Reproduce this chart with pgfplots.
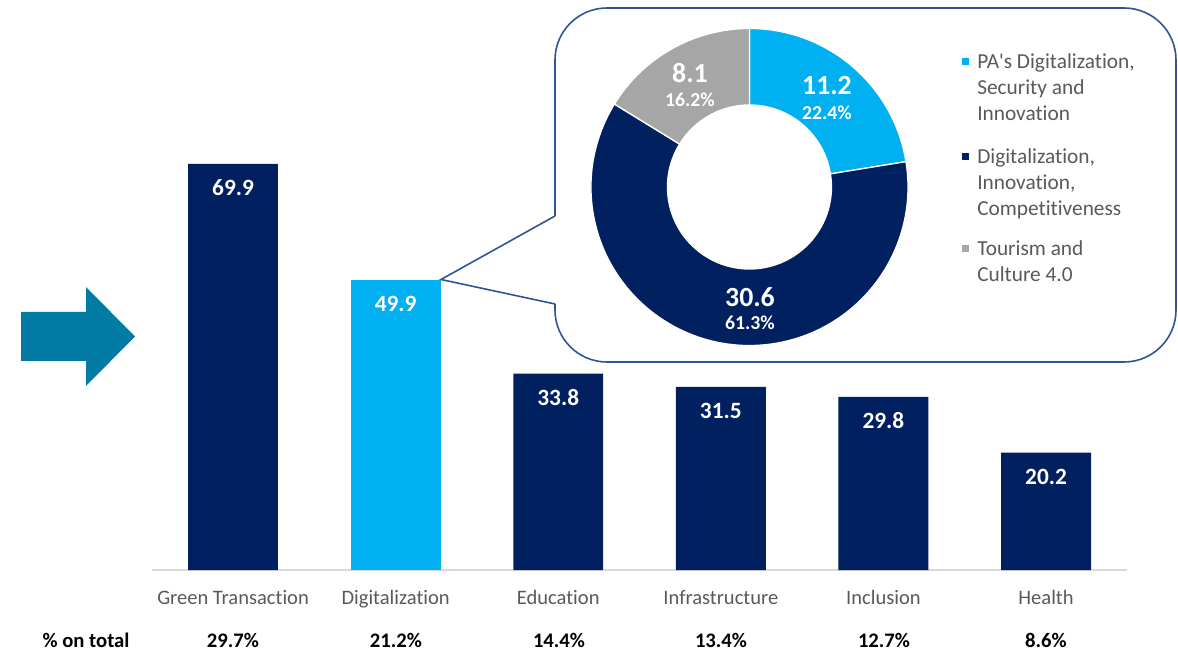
\documentclass[border=0pt]{standalone}
\usepackage{pgfplots}
\pgfplotsset{compat=1.18}
\usepackage{fontspec}
\setmainfont{Carlito}[Ligatures={NoCommon}]
\definecolor{navy}{HTML}{002060}
\definecolor{lblue}{HTML}{00B0F0}
\definecolor{dgray}{HTML}{A6A6A6}
\definecolor{arrowc}{HTML}{027BA5}
\definecolor{tgray}{HTML}{595959}
\definecolor{axgray}{HTML}{D9D9D9}
\definecolor{callc}{HTML}{2F5597}
\begin{document}
\begin{tikzpicture}
\path[use as bounding box] (0,0) rectangle (883.5pt,492.75pt);
% ---------- bar chart ----------
\begin{axis}[
  at={(113.8pt,65.25pt)}, anchor=south west,
  scale only axis, width=731.7pt, height=348.6pt,
  xmin=-0.5, xmax=5.5, ymin=0, ymax=80,
  axis x line*=bottom, axis y line=none,
  x axis line style={draw=axgray, line width=1.5pt},
  xtick={0,1,2,3,4,5},
  xticklabels={Green Transaction,Digitalization,Education,Infrastructure,Inclusion,Health},
  xtick style={draw=none}, major tick length=0pt,
  xticklabel style={font=\fontsize{15.4}{18}\selectfont, text=tgray, anchor=base, yshift=-26pt},
  ytick=\empty,
  /pgf/number format/assume math mode=true,
  clip=false,
]
\addplot[ybar, bar width=0.553, bar shift=0pt, fill=navy, draw=none,
  nodes near coords={\pgfmathprintnumber[fixed,precision=1,fixed zerofill]{\pgfplotspointmeta}},
  every node near coord/.append style={font=\bfseries\fontsize{17.5}{20}\selectfont, text=white, anchor=center, yshift=-18pt}]
  coordinates {(0,69.9) (2,33.8) (3,31.5) (4,29.8) (5,20.2)};
\addplot[ybar, bar width=0.553, bar shift=0pt, fill=lblue, draw=none,
  nodes near coords={\pgfmathprintnumber[fixed,precision=1,fixed zerofill]{\pgfplotspointmeta}},
  every node near coord/.append style={font=\bfseries\fontsize{17.5}{20}\selectfont, text=white, anchor=center, yshift=-18pt}]
  coordinates {(1,49.9)};
\end{axis}
% ---------- callout, arrow, labels (pixel coordinates) ----------
\begin{scope}[x=0.75pt, y=-0.75pt, yshift=492.75pt]
  \fill[arrowc] (21,312) -- (86,312) -- (86,287) -- (135,336.5) -- (86,386) -- (86,361) -- (21,361) -- cycle;
  \draw[callc, line width=1.2pt, rounded corners=39pt] (555,216) -- (555,8) -- (1176,8) -- (1176,362) -- (555,362) -- (555,304);
  \draw[callc, line width=1.2pt, line join=miter] (555,304) -- (441,279.5) -- (555,216);
  % % on total row
  \begin{scope}[every node/.style={font=\bfseries\fontsize{15.5}{18}\selectfont, anchor=base, inner sep=0pt}]
    \node at (86,647) {\% on total};
    \node at (233,647) {29.7\%};
    \node at (396,647) {21.2\%};
    \node at (559,647) {14.4\%};
    \node at (721,647) {13.4\%};
    \node at (884,647) {12.7\%};
    \node at (1046,647) {8.6\%};
  \end{scope}
  % legend
  \fill[lblue] (961.5,58.5) rectangle (968.5,65.5);
  \fill[navy] (961.5,153.5) rectangle (968.5,160.5);
  \fill[dgray] (961.5,245.5) rectangle (968.5,252.5);
  \begin{scope}[every node/.style={font=\fontsize{16}{19}\selectfont, text=tgray, anchor=base west, inner sep=0pt}]
    \node at (977,69) {PA\textquotesingle s Digitalization,};
    \node at (977,95) {Security and};
    \node at (977,121) {Innovation};
    \node at (977,164) {Digitalization,};
    \node at (977,190) {Innovation,};
    \node at (977,216) {Competitiveness};
    \node at (977,256) {Tourism and};
    \node at (977,282) {Culture 4.0};
  \end{scope}
\end{scope}
% ---------- donut ----------
\def\vA{11.2}\def\vB{30.6}\def\vC{8.1}
\pgfmathsetmacro\tot{\vA+\vB+\vC}
\pgfmathsetmacro\aA{90}
\pgfmathsetmacro\aB{\aA-\vA/\tot*360}
\pgfmathsetmacro\aC{\aB-\vB/\tot*360}
\pgfmathsetmacro\aD{\aC-\vC/\tot*360}
\def\Ro{118.9pt}\def\Ri{61.5pt}\def\W{57.4pt}
\begin{axis}[
  at={(562.1pt,352.5pt)}, anchor=center,
  scale only axis, width=237.8pt, height=237.8pt,
  xmin=-1, xmax=1, ymin=-1, ymax=1, hide axis, clip=false,
]
\fill[lblue, draw=white, line width=1pt] (axis cs:0,0) ++(\aA:\Ro) arc[start angle=\aA, end angle=\aB, radius=\Ro] -- ++(\aB:-\W) arc[start angle=\aB, end angle=\aA, radius=\Ri] -- cycle;
\fill[navy, draw=white, line width=1pt] (axis cs:0,0) ++(\aB:\Ro) arc[start angle=\aB, end angle=\aC, radius=\Ro] -- ++(\aC:-\W) arc[start angle=\aC, end angle=\aB, radius=\Ri] -- cycle;
\fill[dgray, draw=white, line width=1pt] (axis cs:0,0) ++(\aC:\Ro) arc[start angle=\aC, end angle=\aD, radius=\Ro] -- ++(\aD:-\W) arc[start angle=\aD, end angle=\aC, radius=\Ri] -- cycle;
\end{axis}
\begin{scope}[x=0.75pt, y=-0.75pt, yshift=492.75pt]
  \begin{scope}[every node/.style={text=white, anchor=center, inner sep=0pt}]
    \node[font=\bfseries\fontsize{20.8}{24}\selectfont] at (827,86) {11.2};
    \node[font=\bfseries\fontsize{14.8}{17}\selectfont] at (827,113) {22.4\%};
    \node[font=\bfseries\fontsize{20.8}{24}\selectfont] at (750,297) {30.6};
    \node[font=\bfseries\fontsize{14.8}{17}\selectfont] at (750,323) {61.3\%};
    \node[font=\bfseries\fontsize{20.8}{24}\selectfont] at (690,73) {8.1};
    \node[font=\bfseries\fontsize{14.8}{17}\selectfont] at (690,100) {16.2\%};
  \end{scope}
\end{scope}
\end{tikzpicture}
\end{document}
